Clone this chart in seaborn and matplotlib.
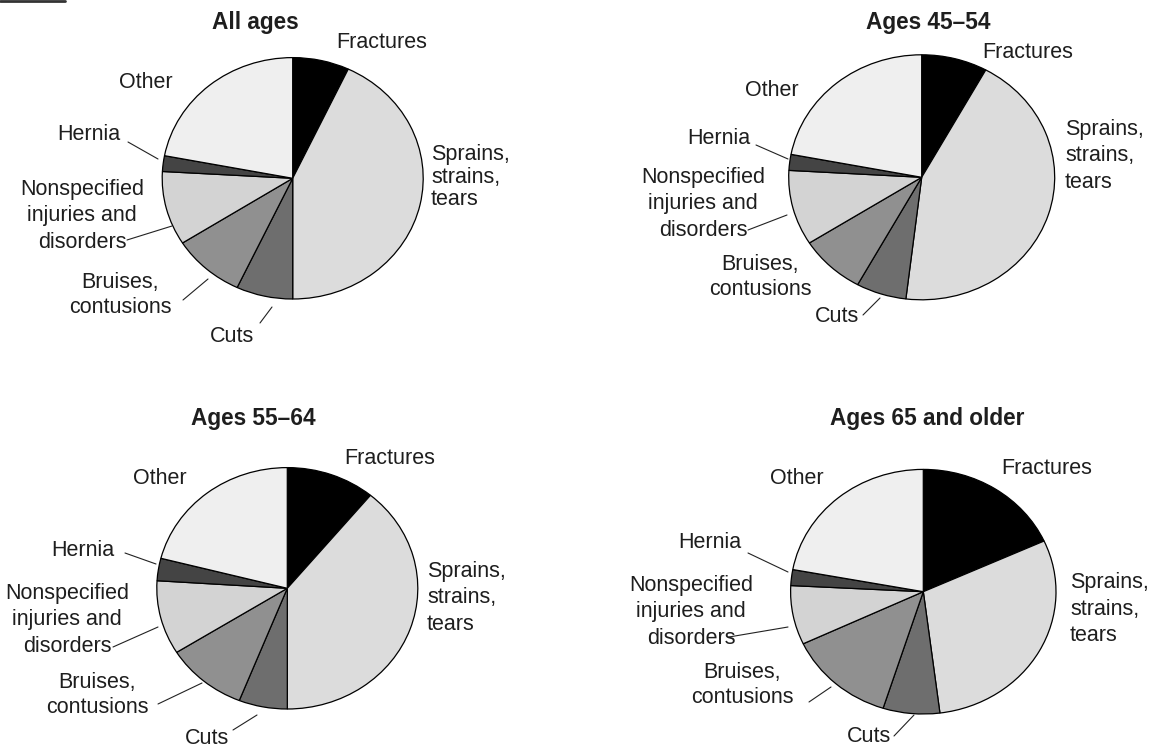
import matplotlib
matplotlib.use("Agg")
import matplotlib.pyplot as plt
import seaborn as sns

# ---------------- data ----------------
categories = ["Fractures", "Sprains, strains, tears", "Cuts", "Bruises, contusions",
              "Nonspecified injuries and disorders", "Hernia", "Other"]
all_ages = [7.0, 43.0, 7.0, 9.0, 9.9, 2.1, 22.0]
ages_45_54 = [8.0, 43.9, 6.1, 8.0, 9.9, 2.1, 22.0]
ages_55_64 = [11.0, 39.0, 6.0, 10.1, 9.9, 3.0, 21.0]
ages_65_older = [18.2, 29.8, 6.9, 13.1, 7.8, 2.1, 22.1]
panel_titles = ["All ages", "Ages 45–54", "Ages 55–64", "Ages 65 and older"]
label_texts = ["Fractures", "Sprains,\nstrains,\ntears", "Cuts", "Bruises,\ncontusions",
               "Nonspecified\ninjuries and\ndisorders", "Hernia", "Other"]

# ---------------- style ----------------
sns.set_theme(style="white")
plt.rcParams["font.family"] = ["Liberation Sans", "DejaVu Sans"]
colors = ["#000000", "#dcdcdc", "#6e6e6e", "#909090", "#d3d3d3", "#444444", "#efefef"]
TXT = "#1e1e1e"

W, H = 1155, 751
fig = plt.figure(figsize=(W / 100, H / 100), dpi=100)

# pie geometry in pixels: centre x, centre y (from top), horizontal radius, vertical radius
geom = [(292.7, 178.3, 130.5, 120.7),
        (921.7, 177.3, 133.0, 122.5),
        (287.3, 588.3, 130.5, 120.7),
        (923.3, 591.7, 132.7, 122.3)]

# label layout (pixels, from top-left): (x, y, ha, linespacing)
layouts = [
    dict(title=(255, 23),
         pos=[(336, 42, "left", 1.3), (431, 177, "left", 1.12), (232, 337, "center", 1.3),
              (120, 295, "center", 1.3), (82, 216, "center", 1.32), (89, 135, "center", 1.3),
              (146, 82, "center", 1.3)],
         leaders=[((128, 142), (158, 159)), ((127, 240), (172, 226)),
                  ((183, 300), (208, 279)), ((260, 323), (272, 307))]),
    dict(title=(928, 22),
         pos=[(982, 52, "left", 1.3), (1065, 156, "left", 1.32), (837, 317, "center", 1.3),
              (760, 277, "center", 1.3), (703, 204, "center", 1.32), (719, 138, "center", 1.3),
              (772, 90, "center", 1.3)],
         leaders=[((756, 145), (788, 159)), ((748, 230), (787, 215)),
                  ((863, 315), (880, 298))]),
    dict(title=(253, 418),
         pos=[(344, 458, "left", 1.3), (427, 598, "left", 1.32), (207, 738, "center", 1.3),
              (97, 695, "center", 1.3), (67, 620, "center", 1.32), (83, 550, "center", 1.3),
              (160, 478, "center", 1.3)],
         leaders=[((125, 553), (156, 564)), ((113, 647), (158, 627)),
                  ((158, 704), (202, 683)), ((233, 730), (257, 715))]),
    dict(title=(927, 419),
         pos=[(1001, 469, "left", 1.3), (1070, 609, "left", 1.32), (869, 737, "center", 1.3),
              (742, 685, "center", 1.3), (691, 612, "center", 1.32), (710, 543, "center", 1.3),
              (797, 479, "center", 1.3)],
         leaders=[((748, 553), (788, 572)), ((729, 637), (788, 627)),
                  ((809, 702), (831, 687)), ((894, 736), (914, 715))]),
]

series = [all_ages, ages_45_54, ages_55_64, ages_65_older]

for vals, (cx, cy, rh, rv) in zip(series, geom):
    ax = fig.add_axes([(cx - rh) / W, (H - cy - rv) / H, 2 * rh / W, 2 * rv / H])
    ax.pie(vals, colors=colors, startangle=90, counterclock=False, radius=1,
           wedgeprops=dict(edgecolor="black", linewidth=0.9))
    ax.set_aspect("auto")
    ax.set_xlim(-1.0, 1.0)
    ax.set_ylim(-1.0, 1.0)
    ax.axis("off")

# overlay for text & leader lines
ov = fig.add_axes([0, 0, 1, 1], zorder=5)
ov.set_xlim(0, W)
ov.set_ylim(H, 0)
ov.axis("off")
ov.patch.set_alpha(0)

for title, lay in zip(panel_titles, layouts):
    ov.text(lay["title"][0], lay["title"][1], title, ha="center", va="center",
            fontsize=16.3, fontweight="bold", color=TXT)
    for txt, (x, y, ha, ls) in zip(label_texts, lay["pos"]):
        ov.text(x, y, txt, ha=ha, va="center", multialignment=ha,
                fontsize=15.5, color=TXT, linespacing=ls)
    for (x0, y0), (x1, y1) in lay["leaders"]:
        ov.plot([x0, x1], [y0, y1], color="#222222", linewidth=0.8)

# small rule at the top-left corner
ov.plot([0, 65], [0.8, 0.8], color="#333333", linewidth=2)

fig.savefig("out.png", dpi=100)
